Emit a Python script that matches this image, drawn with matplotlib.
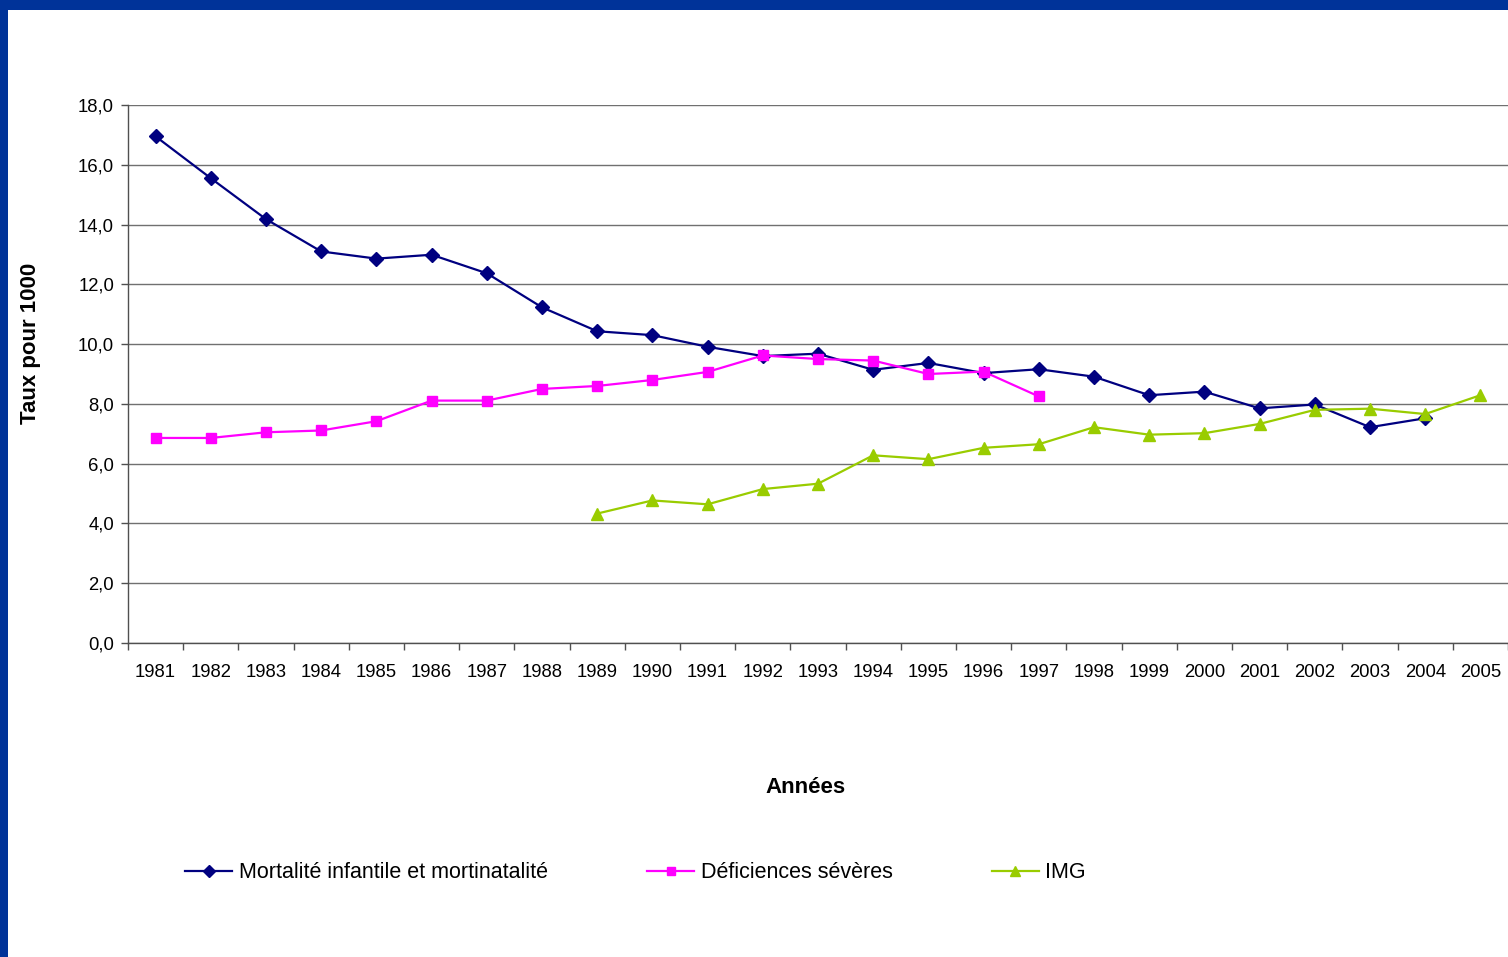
import numpy as np
import matplotlib

matplotlib.use('Agg')

import matplotlib.pyplot as plt
from matplotlib.patches import Rectangle
from matplotlib.ticker import FixedLocator, NullFormatter, FixedFormatter

plt.rcParams['font.family'] = ['Liberation Sans', 'DejaVu Sans']

# years on the category axis
years = list(range(1981, 2006))

# taux pour 1000, one list per series (None = no value that year)
mortalite = [16.95, 15.55, 14.18, 13.1, 12.86, 12.99, 12.37, 11.23, 10.43, 10.3,
             9.91, 9.6, 9.68, 9.14, 9.37, 9.03, 9.16, 8.91, 8.29, 8.41,
             7.85, 7.98, 7.22, 7.52, None]
deficiences = [6.86, 6.86, 7.05, 7.11, 7.42, 8.11, 8.11, 8.5, 8.6, 8.8,
               9.07, 9.62, 9.5, 9.45, 9.0, 9.08, 8.25, None, None, None,
               None, None, None, None, None]
img = [None, None, None, None, None, None, None, None, 4.33, 4.77,
       4.64, 5.15, 5.33, 6.28, 6.15, 6.53, 6.65, 7.22, 6.97, 7.02,
       7.33, 7.8, 7.84, 7.66, 8.29]

series_labels = ['Mortalité infantile et mortinatalité',
                 'Déficiences sévères', 'IMG']
yticks = np.arange(0, 18.1, 2)

W, H = 1508, 957
fig = plt.figure(figsize=(W / 100, H / 100), dpi=100)
fig.patch.set_facecolor('white')

# blue frame along the top and left edges
border = '#003399'
fig.patches.append(Rectangle((0, 1 - 10 / H), 1, 10 / H, transform=fig.transFigure,
                             facecolor=border, edgecolor='none', zorder=0))
fig.patches.append(Rectangle((0, 0), 8 / W, 1, transform=fig.transFigure,
                             facecolor=border, edgecolor='none', zorder=0))

ax = fig.add_axes([128 / W, 1 - 643 / H, 1 - 128 / W, (643 - 105) / H])

x = np.arange(len(years))


def as_array(vals):
    return np.array([np.nan if v is None else v for v in vals], dtype=float)


ax.plot(x, as_array(mortalite), color='#000080', lw=1.6, marker='D', ms=7,
        label=series_labels[0], zorder=3)
ax.plot(x, as_array(deficiences), color='#FF00FF', lw=1.6, marker='s', ms=7.5,
        label=series_labels[1], zorder=4)
ax.plot(x, as_array(img), color='#99CC00', lw=1.6, marker='^', ms=9,
        label=series_labels[2], zorder=5)

ax.set_xlim(-0.5, len(years) - 0.5)
ax.set_ylim(0, 18)

# gridlines
ax.set_yticks(yticks)
ax.set_yticklabels([f'{v:.1f}'.replace('.', ',') for v in yticks])
ax.yaxis.grid(True, color='#707070', lw=1)
ax.set_axisbelow(True)

# category axis: ticks between years, labels centred on each year
ax.xaxis.set_major_locator(FixedLocator(np.arange(-0.5, len(years), 1)))
ax.xaxis.set_major_formatter(NullFormatter())
ax.xaxis.set_minor_locator(FixedLocator(x))
ax.xaxis.set_minor_formatter(FixedFormatter([str(y) for y in years]))
ax.tick_params(axis='x', which='major', length=5, width=1, color='#505050', direction='out')
ax.tick_params(axis='x', which='minor', length=0, pad=15, labelsize=13.3, labelcolor='black')
ax.tick_params(axis='y', length=5, width=1, color='#505050', direction='out',
               pad=5, labelsize=13.3, labelcolor='black')

for side in ('top', 'right'):
    ax.spines[side].set_visible(False)
for side in ('left', 'bottom'):
    ax.spines[side].set_color('#505050')
    ax.spines[side].set_linewidth(1)

ax.set_ylabel('Taux pour 1000', fontsize=16, fontweight='bold')
ax.yaxis.set_label_coords((41 - 128) / (W - 128), (643 - 343) / (643 - 105))
ax.set_xlabel('Années', fontsize=16, fontweight='bold')
ax.xaxis.set_label_coords((806 - 128) / (W - 128), -(777 - 643) / (643 - 105))

handles, labels = ax.get_legend_handles_labels()
fig.legend(handles, labels, loc='center left', bbox_to_anchor=(185 / W, 1 - 873 / H),
           ncol=3, frameon=False, fontsize=15.5, handlelength=2.2, handletextpad=0.3,
           columnspacing=4.6, borderpad=0, borderaxespad=0, markerscale=0.85)

fig.savefig('out.png', dpi=100, facecolor='white')
